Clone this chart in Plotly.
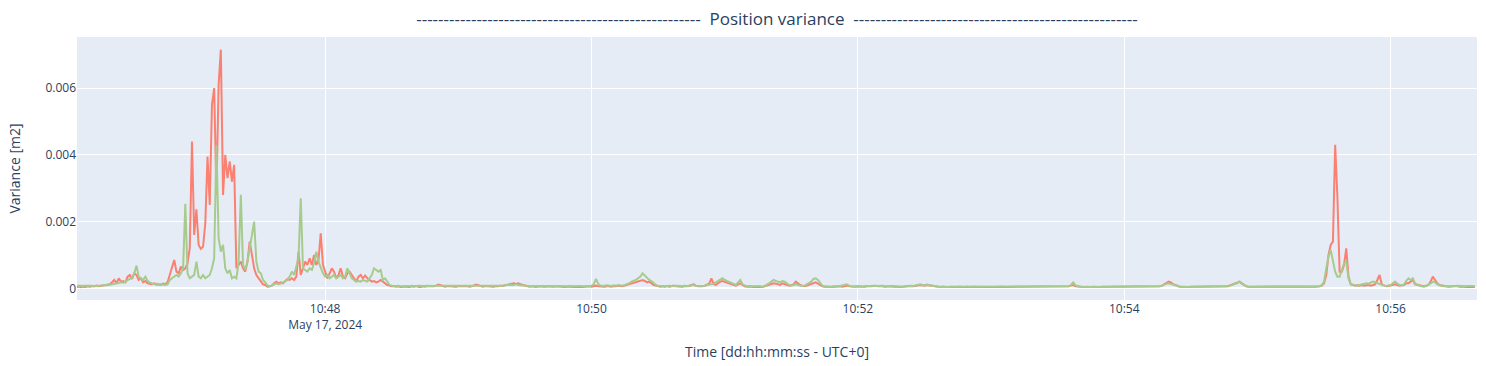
import pandas as pd
import plotly.graph_objects as go

# Variance values in units of 1e-5 m2, one sample per second starting 2024-05-17 10:46:08 UTC
start_time = "2024-05-17 10:46:08"

red_var_e5 = [
    4, 5, 3, 5, 4, 6, 5, 7, 6, 8, 6, 7, 9, 8, 10, 12, 18, 25, 15, 30,
    20, 22, 18, 35, 40, 28, 45, 40, 25, 30, 18, 22, 15, 14, 12, 15, 11, 12, 10, 14,
    12, 18, 40, 60, 85, 50, 45, 65, 55, 60, 75, 120, 440, 160, 237, 130, 118, 125, 195, 395,
    250, 550, 600, 280, 610, 715, 280, 400, 330, 380, 320, 370, 60, 70, 80, 60, 50, 80, 140, 100,
    60, 40, 30, 20, 12, 10, 5, 6, 8, 15, 20, 15, 18, 15, 22, 28, 25, 30, 25, 35,
    110, 40, 60, 80, 70, 90, 70, 100, 70, 85, 165, 70, 50, 30, 45, 60, 50, 30, 40, 60,
    35, 30, 45, 50, 40, 30, 20, 35, 40, 30, 38, 30, 25, 20, 22, 18, 20, 25, 20, 15,
    10, 8, 6, 7, 5, 6, 4, 5, 6, 5, 4, 6, 5, 7, 5, 4, 6, 5, 7, 6,
    5, 6, 8, 11, 9, 6, 5, 7, 6, 5, 6, 5, 7, 6, 5, 6, 7, 5, 6, 8,
    11, 9, 6, 5, 7, 6, 5, 6, 5, 7, 6, 8, 7, 9, 10, 12, 14, 15, 13, 15,
    12, 10, 7, 6, 5, 6, 5, 4, 6, 5, 4, 5, 6, 5, 4, 5, 6, 5, 4, 5,
    4, 5, 6, 5, 4, 5, 6, 5, 4, 5, 5, 6, 5, 7, 8, 6, 5, 6, 5, 7,
    6, 5, 7, 6, 8, 7, 6, 8, 10, 12, 14, 18, 20, 22, 24, 25, 22, 18, 20, 14,
    10, 8, 6, 5, 6, 5, 7, 5, 6, 8, 6, 5, 6, 5, 7, 6, 8, 10, 12, 8,
    6, 7, 6, 8, 10, 14, 30, 12, 10, 15, 20, 22, 20, 18, 15, 12, 10, 8, 12, 15,
    10, 6, 5, 6, 5, 4, 5, 6, 5, 4, 6, 8, 10, 12, 15, 14, 12, 10, 15, 12,
    10, 8, 9, 12, 20, 15, 10, 8, 6, 8, 10, 12, 15, 18, 14, 10, 6, 5, 6, 5,
    4, 5, 4, 5, 6, 5, 7, 8, 6, 5, 4, 5, 6, 5, 4, 5, 6, 5, 6, 7,
    8, 6, 7, 6, 5, 6, 5, 6, 5, 6, 5, 4, 5, 6, 5, 6, 7, 6, 8, 9,
    10, 9, 8, 10, 9, 7, 6, 5, 5, 4, 5, 4, 5, 4, 5, 4, 4, 5, 4, 5,
    4, 5, 4, 4, 5, 4, 5, 4, 4, 5, 4, 4, 5, 4, 4, 5, 4, 5, 4, 4,
    4, 5, 4, 4, 5, 4, 4, 5, 4, 4, 5, 4, 5, 4, 4, 5, 4, 4, 5, 4,
    4, 5, 4, 4, 5, 4, 5, 6, 8, 10, 6, 5, 4, 5, 4, 5, 4, 4, 5, 4,
    5, 4, 5, 5, 4, 5, 5, 4, 5, 6, 5, 4, 5, 5, 4, 5, 5, 4, 5, 5,
    5, 4, 5, 5, 4, 5, 5, 6, 6, 8, 12, 16, 20, 18, 12, 10, 7, 5, 5, 4,
    5, 4, 5, 5, 4, 5, 5, 4, 5, 5, 4, 5, 5, 6, 5, 5, 4, 5, 6, 7,
    10, 12, 15, 18, 20, 14, 9, 6, 5, 5, 4, 5, 5, 4, 5, 5, 4, 5, 5, 4,
    5, 5, 4, 5, 5, 6, 5, 5, 4, 5, 5, 4, 5, 5, 4, 5, 5, 4, 5, 5,
    6, 8, 15, 40, 100, 130, 140, 430, 275, 50, 50, 70, 120, 35, 12, 10, 8, 9, 8, 10,
    8, 9, 10, 8, 10, 12, 25, 40, 12, 8, 6, 7, 8, 9, 12, 10, 8, 9, 10, 15,
    15, 20, 25, 12, 10, 8, 7, 6, 8, 10, 20, 35, 25, 15, 10, 8, 7, 6, 5, 6,
    5, 6, 7, 5, 6, 5, 4, 5, 6, 5, 4,
]

green_var_e5 = [
    8, 8, 7, 9, 7, 8, 7, 8, 6, 7, 8, 7, 8, 10, 9, 10, 12, 14, 13, 16,
    18, 17, 20, 25, 28, 32, 45, 68, 35, 28, 25, 35, 22, 18, 15, 12, 14, 10, 12, 11,
    10, 12, 25, 30, 35, 40, 35, 45, 60, 253, 45, 30, 35, 40, 80, 35, 30, 40, 30, 35,
    40, 60, 90, 430, 150, 110, 130, 60, 45, 55, 30, 35, 30, 80, 280, 70, 55, 80, 120, 160,
    200, 80, 50, 45, 25, 18, 8, 6, 10, 12, 15, 12, 14, 18, 20, 25, 35, 50, 40, 70,
    90, 270, 60, 55, 50, 60, 55, 75, 110, 80, 60, 45, 35, 40, 30, 35, 40, 30, 35, 40,
    30, 35, 60, 45, 30, 25, 20, 22, 20, 25, 22, 20, 30, 40, 60, 55, 50, 55, 25, 30,
    20, 10, 8, 6, 7, 8, 6, 7, 6, 7, 6, 8, 7, 6, 8, 7, 6, 7, 8, 7,
    6, 7, 8, 8, 7, 6, 7, 6, 8, 7, 6, 7, 6, 7, 8, 6, 7, 8, 7, 6,
    8, 8, 7, 6, 7, 6, 8, 7, 6, 7, 8, 7, 8, 9, 10, 10, 11, 10, 12, 10,
    9, 8, 7, 6, 7, 6, 7, 6, 5, 6, 7, 6, 5, 6, 7, 6, 5, 6, 7, 6,
    5, 6, 7, 6, 5, 6, 7, 6, 5, 6, 7, 6, 8, 12, 28, 14, 8, 7, 8, 9,
    8, 7, 9, 8, 10, 9, 8, 10, 12, 15, 20, 22, 25, 30, 35, 45, 38, 30, 25, 22,
    15, 10, 8, 7, 8, 7, 6, 8, 7, 6, 8, 7, 6, 7, 8, 7, 6, 8, 10, 8,
    7, 8, 7, 8, 9, 10, 12, 14, 18, 22, 28, 30, 25, 22, 20, 15, 12, 10, 18, 25,
    12, 8, 6, 7, 6, 5, 6, 7, 6, 5, 7, 10, 15, 20, 25, 22, 20, 18, 22, 20,
    15, 10, 8, 9, 12, 10, 8, 7, 8, 12, 15, 20, 28, 30, 25, 15, 8, 6, 5, 6,
    5, 6, 5, 6, 7, 8, 10, 12, 8, 6, 5, 6, 5, 6, 5, 6, 7, 6, 7, 8,
    7, 8, 9, 8, 7, 6, 7, 6, 7, 6, 5, 6, 5, 6, 7, 6, 8, 7, 9, 10,
    12, 10, 9, 11, 10, 8, 6, 5, 5, 4, 5, 4, 5, 4, 5, 5, 4, 5, 4, 5,
    4, 4, 5, 4, 4, 5, 4, 4, 5, 4, 4, 5, 4, 4, 5, 4, 4, 4, 5, 4,
    5, 4, 4, 5, 4, 4, 5, 4, 4, 5, 4, 4, 4, 5, 4, 4, 5, 4, 4, 5,
    4, 4, 5, 4, 5, 4, 5, 6, 10, 18, 9, 6, 5, 4, 5, 4, 4, 5, 4, 4,
    4, 4, 4, 5, 4, 4, 5, 4, 4, 4, 5, 4, 4, 4, 5, 4, 4, 4, 5, 4,
    4, 4, 4, 5, 4, 4, 5, 5, 6, 8, 12, 14, 15, 14, 11, 9, 6, 5, 4, 4,
    4, 4, 4, 4, 5, 4, 4, 4, 5, 4, 4, 4, 5, 4, 4, 5, 4, 5, 5, 6,
    9, 11, 14, 16, 20, 15, 10, 6, 5, 4, 4, 4, 5, 4, 4, 4, 5, 4, 4, 5,
    4, 4, 5, 4, 4, 5, 4, 4, 5, 4, 4, 5, 4, 5, 4, 4, 5, 4, 4, 5,
    6, 10, 20, 60, 95, 115, 80, 50, 35, 35, 55, 75, 80, 30, 12, 10, 9, 8, 10, 12,
    12, 15, 14, 16, 20, 18, 15, 12, 10, 8, 7, 8, 10, 15, 20, 14, 10, 9, 12, 22,
    30, 25, 30, 14, 10, 8, 6, 5, 7, 10, 15, 20, 18, 12, 9, 7, 6, 5, 6, 7,
    6, 7, 8, 7, 6, 7, 6, 7, 8, 7, 6,
]

assert len(red_var_e5) == len(green_var_e5), (len(red_var_e5), len(green_var_e5))

times = pd.date_range(start=start_time, periods=len(red_var_e5), freq="1s")
red_var = [v * 1e-5 for v in red_var_e5]
green_var = [v * 1e-5 for v in green_var_e5]

fig = go.Figure()
fig.add_trace(go.Scatter(x=times, y=red_var, mode="lines",
                         line=dict(color="#FA8072", width=2), showlegend=False))
fig.add_trace(go.Scatter(x=times, y=green_var, mode="lines",
                         line=dict(color="#A6CB8D", width=2), showlegend=False))

dashes = "-" * 52
fig.update_layout(
    template="plotly",
    width=1486, height=366,
    margin=dict(l=77, r=9, t=37, b=66),
    title=dict(text=f"{dashes}&nbsp;&nbsp;Position variance&nbsp;&nbsp;{dashes}",
               x=0.5, xref="paper", xanchor="center",
               y=1 - 19 / 366, yref="container", yanchor="middle",
               font=dict(size=17)),
    xaxis=dict(title=dict(text="Time [dd:hh:mm:ss - UTC+0]"),
               range=["2024-05-17 10:46:08.2", "2024-05-17 10:56:38.9"],
               dtick=120000),
    yaxis=dict(title=dict(text="Variance [m2]", standoff=21),
               range=[-0.00035, 0.00753], dtick=0.002),
)

fig.write_html("out.html")
